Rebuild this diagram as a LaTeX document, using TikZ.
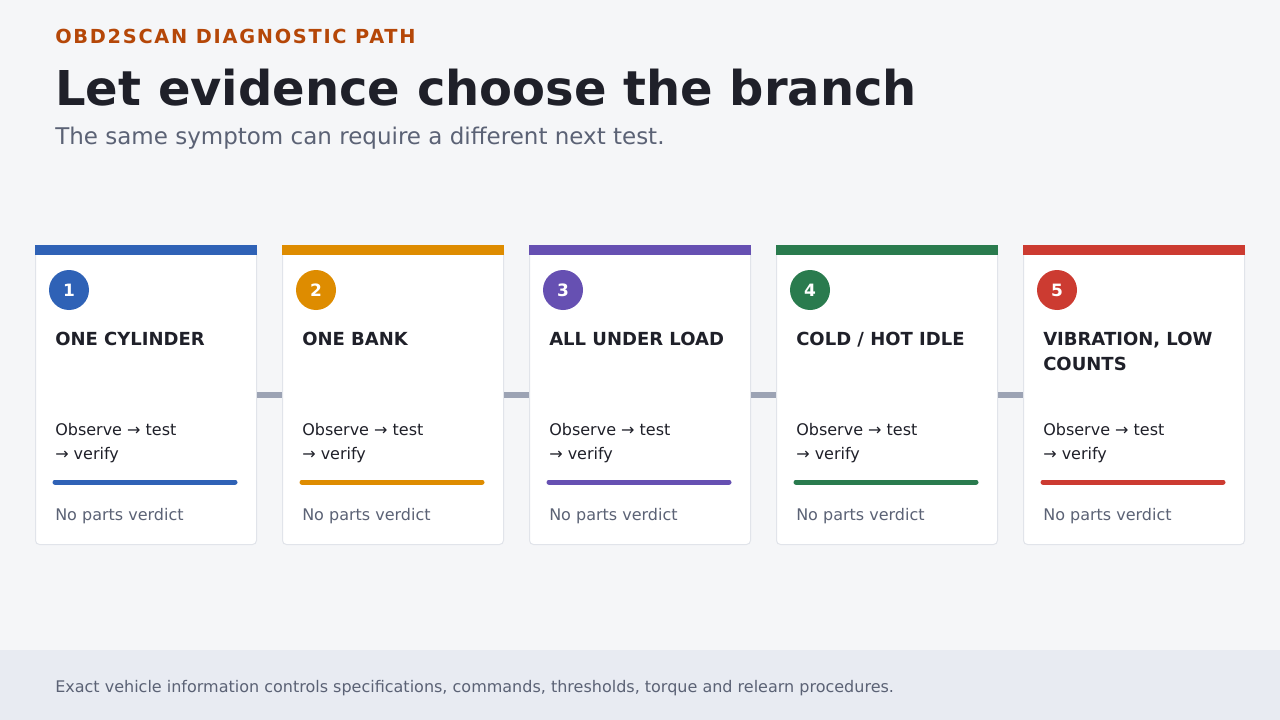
\documentclass[tikz,border=0pt]{standalone}
\usepackage{fontspec}
\setmainfont{DejaVu Sans}
\newfontfamily\kickfont[LetterSpace=9]{DejaVu Sans}
\definecolor{bg}{HTML}{F5F6F8}
\definecolor{footbg}{HTML}{E8EBF2}
\definecolor{kick}{HTML}{B54708}
\definecolor{ink}{HTML}{1F2029}
\definecolor{muted}{HTML}{5B6275}
\definecolor{cardline}{HTML}{E1E4EA}
\definecolor{conn}{HTML}{9CA3B4}
\definecolor{cA}{HTML}{2F62B6}
\definecolor{cB}{HTML}{DE8C00}
\definecolor{cC}{HTML}{6650B2}
\definecolor{cD}{HTML}{2A7B4E}
\definecolor{cE}{HTML}{CC3B31}
\begin{document}
\begin{tikzpicture}[x=0.75pt,y=-0.75pt,
  txt/.style={anchor=base west, inner sep=0pt},
  card/.style={draw=cardline, line width=0.75pt, fill=white, rounded corners=3pt,
    minimum width=165.75pt, minimum height=224.25pt, inner sep=0pt, anchor=north west},
  numdot/.style={circle, minimum size=30pt, inner sep=0pt, text=white,
    font=\bfseries\fontsize{12.75pt}{15pt}\selectfont},
  cardtitle/.style={txt, text=ink, font=\bfseries\fontsize{13.5pt}{16pt}\selectfont},
  cardbody/.style={txt, text=ink, font=\fontsize{12pt}{14pt}\selectfont},
  cardnote/.style={txt, text=muted, font=\fontsize{12pt}{14pt}\selectfont},
  connector/.style={draw=conn, line width=4.5pt}
]
\useasboundingbox (0,0) rectangle (1280,720);
\fill[bg] (0,0) rectangle (1280,720);
\fill[footbg] (0,650) rectangle (1280,720);
\node[txt, text=kick, font=\kickfont\bfseries\fontsize{14.5pt}{17pt}\selectfont] (kicker) at (55,44) {OBD2SCAN DIAGNOSTIC PATH};
\node[txt, text=ink, font=\bfseries\fontsize{36pt}{42pt}\selectfont] (title) at (55,106) {Let evidence choose the branch};
\node[txt, text=muted, font=\fontsize{17.25pt}{21pt}\selectfont] (subtitle) at (55,145) {The same symptom can require a different next test.};
\node[txt, text=muted, font=\fontsize{12pt}{14pt}\selectfont] (footer) at (55,692) {Exact vehicle information controls specifications, commands, thresholds, torque and relearn procedures.};
\foreach \i/\col/\tA/\tB in {1/cA/ONE CYLINDER/, 2/cB/ONE BANK/, 3/cC/ALL UNDER LOAD/, 4/cD/{COLD / HOT IDLE}/, 5/cE/{VIBRATION, LOW}/COUNTS}{
  \pgfmathsetmacro{\cx}{35+247*(\i-1)}
  \node[card] (c\i) at (\cx,245) {};
  \fill[\col] (c\i.north west) rectangle ([yshift=-7.5pt]c\i.north east);
  \node[numdot, fill=\col] (n\i) at (\cx+34,290) {\i};
  \node[cardtitle] (t\i) at (\cx+20,345) {\tA};
  \node[cardtitle] (u\i) at (\cx+20,370) {\tB};
  \node[cardbody] (o\i) at (\cx+20,435) {Observe → test};
  \node[cardbody] (v\i) at (\cx+20,459) {→ verify};
  \draw[\col, line width=3.75pt, line cap=round] (\cx+20,482) -- (\cx+200,482);
  \node[cardnote] (p\i) at (\cx+20,520) {No parts verdict};
}
\foreach \a/\b in {1/2,2/3,3/4,4/5}{
  \draw[connector] (c\a.east) -- (c\b.west);
}
\end{tikzpicture}
\end{document}
